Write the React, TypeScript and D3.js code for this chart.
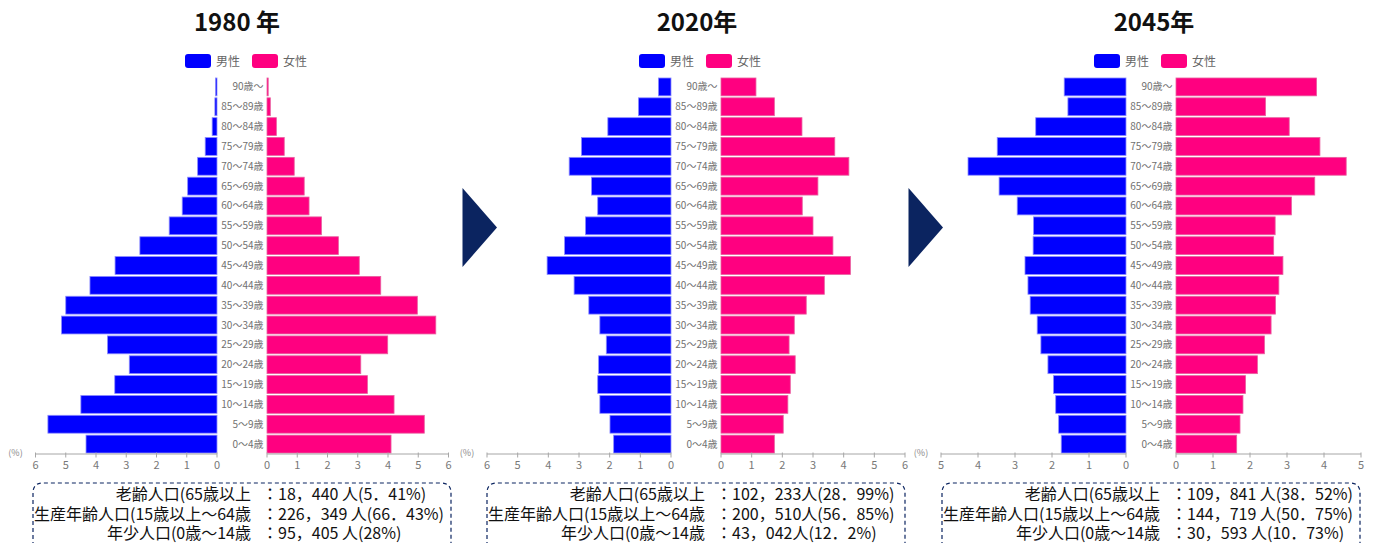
import React from "react";
import * as d3 from "d3";

// Age groups, oldest at the top
const AGE_GROUPS = [
  "90歳～", "85～89歳", "80～84歳", "75～79歳", "70～74歳", "65～69歳",
  "60～64歳", "55～59歳", "50～54歳", "45～49歳", "40～44歳", "35～39歳",
  "30～34歳", "25～29歳", "20～24歳", "15～19歳", "10～14歳", "5～9歳", "0～4歳",
];

// Share of total population (%) per age group
const MALE_1980 = [0.05, 0.07, 0.16, 0.39, 0.64, 0.97, 1.15, 1.58, 2.55, 3.37, 4.2, 5.0, 5.14, 3.62, 2.9, 3.38, 4.5, 5.59, 4.33];
const FEMALE_1980 = [0.04, 0.11, 0.31, 0.57, 0.9, 1.23, 1.39, 1.8, 2.36, 3.05, 3.76, 4.97, 5.58, 3.99, 3.1, 3.32, 4.2, 5.2, 4.1];
const MALE_2020 = [0.41, 1.06, 2.06, 2.92, 3.32, 2.59, 2.39, 2.79, 3.47, 4.04, 3.16, 2.68, 2.32, 2.11, 2.36, 2.39, 2.32, 1.99, 1.87];
const FEMALE_2020 = [1.14, 1.74, 2.64, 3.71, 4.17, 3.16, 2.65, 3.0, 3.65, 4.22, 3.37, 2.78, 2.39, 2.22, 2.42, 2.26, 2.18, 2.03, 1.74];
const MALE_2045 = [1.67, 1.57, 2.44, 3.48, 4.27, 3.43, 2.94, 2.5, 2.51, 2.73, 2.65, 2.59, 2.4, 2.3, 2.11, 1.96, 1.9, 1.82, 1.75];
const FEMALE_2045 = [3.8, 2.42, 3.06, 3.89, 4.6, 3.75, 3.12, 2.68, 2.64, 2.89, 2.78, 2.69, 2.57, 2.39, 2.2, 1.88, 1.81, 1.73, 1.64];

const TITLES = ["1980 年", "2020年", "2045年"];
const AXIS_MAX = [6, 6, 5];
const SERIES_NAMES = ["男性", "女性"];

const STAT_LABELS = ["老齢人口(65歳以上", "生産年齢人口(15歳以上～64歳", "年少人口(0歳～14歳"];
const STATS_1980 = ["18，440 人(5．41%)", "226，349 人(66．43%)", "95，405 人(28%)"];
const STATS_2020 = ["102，233人(28．99%)", "200，510人(56．85%)", "43，042人(12．2%)"];
const STATS_2045 = ["109，841 人(38．52%)", "144，719 人(50．75%)", "30，593 人(10．73%)"];

const MALE_COLOR = "#0000ff";
const FEMALE_COLOR = "#ff0080";
const NAVY = "#0b2460";
const FONT = "'Noto Sans CJK JP', 'Noto Sans', sans-serif";

const panels = [
  { title: TITLES[0], male: MALE_1980, female: FEMALE_1980, stats: STATS_1980, max: AXIS_MAX[0], center: 242, half: 181.5, titleX: 237 },
  { title: TITLES[1], male: MALE_2020, female: FEMALE_2020, stats: STATS_2020, max: AXIS_MAX[1], center: 696, half: 184, titleX: 697 },
  { title: TITLES[2], male: MALE_2045, female: FEMALE_2045, stats: STATS_2045, max: AXIS_MAX[2], center: 1151, half: 185, titleX: 1154 },
];

const GAP = 25;
const AXIS_Y = 454;

const y = d3.scaleBand<string>().domain(AGE_GROUPS).range([77, 454]).paddingInner(0.1).paddingOuter(0.05);

function Axis({ scale, ticks }: { scale: d3.ScaleLinear<number, number>; ticks: number[] }) {
  const [a, b] = scale.range();
  return (
    <g>
      <line x1={a} x2={b} y1={AXIS_Y} y2={AXIS_Y} stroke="#a6a6a6" strokeWidth={1} />
      {ticks.map((t) => (
        <g key={t}>
          <line x1={scale(t)} x2={scale(t)} y1={AXIS_Y - 1.5} y2={AXIS_Y + 3.5} stroke="#a6a6a6" strokeWidth={1} />
          <text x={scale(t)} y={AXIS_Y + 15} textAnchor="middle" fontSize={11} fill="#777" fontFamily={FONT}>
            {t}
          </text>
        </g>
      ))}
    </g>
  );
}

function Panel({ p }: { p: (typeof panels)[number] }) {
  const leftZero = p.center - GAP;
  const rightZero = p.center + GAP;
  const xl = d3.scaleLinear().domain([0, p.max]).range([leftZero, leftZero - p.half]);
  const xr = d3.scaleLinear().domain([0, p.max]).range([rightZero, rightZero + p.half]);
  const ticks = xl.ticks(p.max);
  const legendX = p.center - 57;
  const bw = y.bandwidth();
  const boxL = p.center - 209;
  const boxR = p.center + 209;

  return (
    <g>
      <text x={p.titleX} y={31} textAnchor="middle" fontSize={24} fontWeight={700} fill="#111" fontFamily={FONT}>
        {p.title}
      </text>

      {/* legend */}
      <rect x={legendX} y={54} width={26} height={14} rx={3} fill={MALE_COLOR} />
      <text x={legendX + 31} y={66} fontSize={12} fill="#666" fontFamily={FONT}>{SERIES_NAMES[0]}</text>
      <rect x={legendX + 67} y={54} width={26} height={14} rx={3} fill={FEMALE_COLOR} />
      <text x={legendX + 98} y={66} fontSize={12} fill="#666" fontFamily={FONT}>{SERIES_NAMES[1]}</text>

      {/* bars */}
      {AGE_GROUPS.map((g, i) => (
        <g key={g}>
          <rect
            x={xl(p.male[i])}
            y={y(g)}
            width={leftZero - xl(p.male[i])}
            height={bw}
            fill={MALE_COLOR}
            stroke="#8c8cff"
            strokeWidth={0.8}
          />
          <rect
            x={rightZero}
            y={y(g)}
            width={xr(p.female[i]) - rightZero}
            height={bw}
            fill={FEMALE_COLOR}
            stroke="#e8609f"
            strokeWidth={0.8}
          />
          <text
            x={p.center + 21.5}
            y={(y(g) as number) + bw / 2 + 3.5}
            textAnchor="end"
            fontSize={10}
            fill="#707070"
            fontFamily={FONT}
          >
            {g}
          </text>
        </g>
      ))}

      <Axis scale={xl} ticks={ticks} />
      <Axis scale={xr} ticks={ticks} />
      <text x={leftZero - p.half - 20} y={AXIS_Y + 2} textAnchor="middle" fontSize={9} fill="#888" fontFamily={FONT}>
        (%)
      </text>

      {/* population summary */}
      <path
        d={`M${boxL},560 L${boxL},493 Q${boxL},483 ${boxL + 10},483 L${boxR - 10},483 Q${boxR},483 ${boxR},493 L${boxR},560`}
        fill="none"
        stroke={NAVY}
        strokeWidth={1.2}
        strokeDasharray="4,3"
      />
      {STAT_LABELS.map((lab, i) => (
        <g key={lab} fontFamily={FONT} fontSize={16} fill="#111">
          <text x={p.center + 9} y={500 + i * 19.5} textAnchor="end">{lab}</text>
          <text x={p.center + 28} y={500 + i * 19.5} textAnchor="middle">：</text>
          <text x={p.center + 36} y={500 + i * 19.5} textAnchor="start">{p.stats[i]}</text>
        </g>
      ))}
    </g>
  );
}

// Chevron arrows between the years
const ARROW_X = [462.5, 908.5];

export default function App() {
  return (
    <svg
      width={1377}
      height={543}
      style={{ position: "absolute", left: 0, top: 0, background: "#fff" }}
    >
      {panels.map((p) => (
        <Panel key={p.title} p={p} />
      ))}
      {ARROW_X.map((ax) => (
        <path key={ax} d={`M${ax},188 L${ax + 34.5},227.5 L${ax},267 Z`} fill={NAVY} />
      ))}
    </svg>
  );
}
